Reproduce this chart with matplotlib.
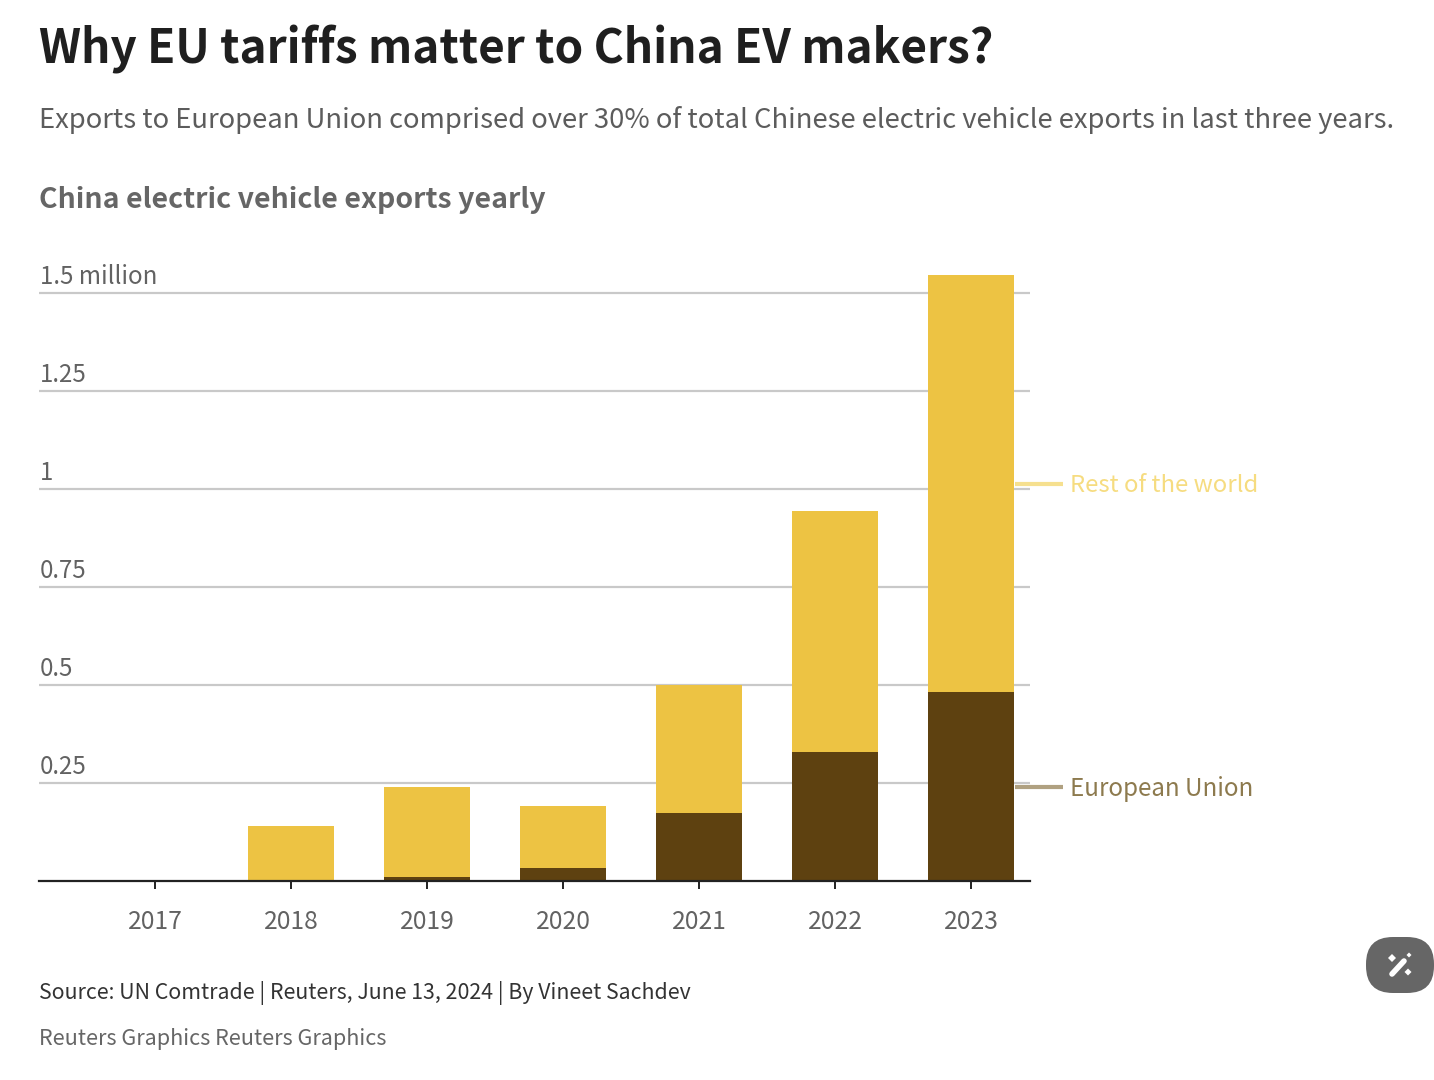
import matplotlib
matplotlib.use("Agg")
import matplotlib.pyplot as plt
from matplotlib.lines import Line2D
from matplotlib.patches import FancyBboxPatch, Polygon
from matplotlib.transforms import Affine2D

plt.rcParams['font.family'] = ['Noto Sans CJK SC', 'Noto Sans', 'DejaVu Sans']

years = [2017, 2018, 2019, 2020, 2021, 2022, 2023]
# million vehicles
eu = [0, 0, 0.010, 0.033, 0.173, 0.329, 0.482]
rest = [0, 0.140, 0.230, 0.158, 0.327, 0.615, 1.064]
grid_values = [0.25, 0.5, 0.75, 1, 1.25, 1.5]
grid_labels = ['0.25', '0.5', '0.75', '1', '1.25', '1.5 million']

W, H = 1434, 1080
fig = plt.figure(figsize=(W / 100, H / 100), dpi=100)


# pixel position -> figure fraction
def fx(x):
    return x / W


def fy(y):
    return 1 - y / H


top_px, bottom_px = 270, 881
left_px, right_px = 39, 1030
ax = fig.add_axes([fx(left_px), fy(bottom_px), fx(right_px - left_px), (bottom_px - top_px) / H])
ax.set_xlim(2017 - (155 - left_px) / 136, 2023 + (right_px - 971) / 136)
ax.set_ylim(0, (bottom_px - top_px) / 392)

ax.bar(years, rest, bottom=eu, width=0.638, color='#edc343', zorder=3)
ax.bar(years, eu, width=0.638, color='#5e4110', zorder=3)

for v, label in zip(grid_values, grid_labels):
    ax.axhline(v, color='#c9c9c9', lw=1.6, zorder=1)
    ax.annotate(label, xy=(0, v), xycoords=('axes fraction', 'data'), xytext=(0.5, 6.6),
                textcoords='offset points', fontsize=17.3, color='#626262',
                va='baseline', ha='left')

for s in ['top', 'left', 'right']:
    ax.spines[s].set_visible(False)
ax.spines['bottom'].set_color('#222222')
ax.spines['bottom'].set_linewidth(1.6)
ax.spines['bottom'].set_zorder(4)
ax.set_yticks([])
ax.set_xticks(years)
ax.tick_params(axis='x', length=6, width=1.4, color='#222222', pad=14.4, labelsize=17.8,
               labelcolor='#626262')

# direct labels
fig.add_artist(Line2D([fx(1015), fx(1063)], [fy(484), fy(484)], color='#f6e08f', lw=3,
                      solid_capstyle='butt'))
fig.add_artist(Line2D([fx(1015), fx(1063)], [fy(787), fy(787)], color='#b0a181', lw=3,
                      solid_capstyle='butt'))
fig.text(fx(1069.5), fy(492), 'Rest of the world', fontsize=17.2, color='#f6dc80',
         va='baseline')
fig.text(fx(1069.5), fy(796), 'European Union', fontsize=17.4, color='#8d7a4e',
         va='baseline')

# header
fig.text(fx(39), fy(63), 'Why EU tariffs matter to China EV makers?', fontsize=33.1,
         fontweight='bold', color='#1f1f1f', va='baseline')
fig.text(fx(39), fy(127.5), 'Exports to European Union comprised over 30% of total Chinese '
         'electric vehicle exports in last three years.', fontsize=19.75, color='#5c5c5c',
         va='baseline')
fig.text(fx(39), fy(207.5), 'China electric vehicle exports yearly', fontsize=20.5,
         fontweight='bold', color='#666666', va='baseline')

# footer
fig.text(fx(39), fy(999), 'Source: UN Comtrade | Reuters, June 13, 2024 | By Vineet Sachdev',
         fontsize=15.33, color='#333333', va='baseline')
fig.text(fx(39), fy(1045), 'Reuters Graphics Reuters Graphics', fontsize=15.57,
         color='#666666', va='baseline')

# the round button at lower right
px_to_fig = Affine2D().scale(1 / W, -1 / H).translate(0, 1) + fig.transFigure
fig.add_artist(FancyBboxPatch((1366 + 27, 937 + 27), 68 - 54, 2, boxstyle='round,pad=27',
                              fc='#666666', ec='none', transform=px_to_fig))
fig.add_artist(Line2D([1392, 1404], [974, 961], color='white', lw=4,
                      solid_capstyle='round', transform=px_to_fig))
for cx, cy, r in [(1392, 958, 4), (1409, 955, 2.5), (1408, 972, 3.5)]:
    pts = [(cx - r, cy), (cx, cy - r), (cx + r, cy), (cx, cy + r)]
    fig.add_artist(Polygon(pts, closed=True, fc='white', ec='none', transform=px_to_fig))

fig.savefig('out.png', dpi=100, facecolor='white')
